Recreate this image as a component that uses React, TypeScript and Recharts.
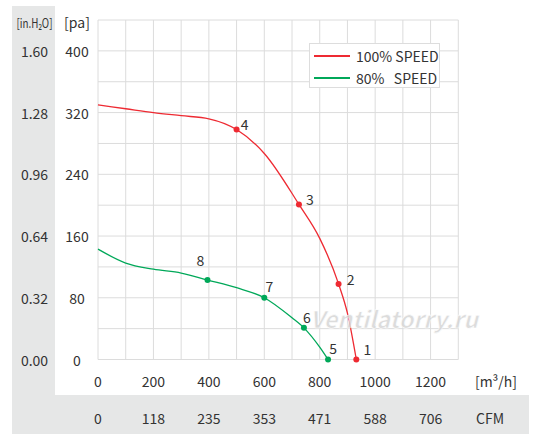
import React from 'react';
import { LineChart, Line, XAxis, YAxis, CartesianGrid, Legend } from 'recharts';

// ---- data ----
const RED_FLOW = [0, 100, 200, 300, 400, 500, 600, 725, 800, 868, 900, 932];
const RED_PRESSURE = [330, 325, 320, 316, 312, 298, 267, 201, 157, 98, 60, 0];
const RED_POINT_LABELS = ['', '', '', '', '', '4', '', '3', '', '2', '', '1'];

const GREEN_FLOW = [0, 100, 200, 300, 395, 500, 600, 700, 743, 800, 830];
const GREEN_PRESSURE = [143, 125, 117, 112, 103, 93, 80, 54, 41, 16, 0];
const GREEN_POINT_LABELS = ['', '', '', '', '8', '', '7', '', '6', '', '5'];

const X_TICKS = [0, 100, 200, 300, 400, 500, 600, 700, 800, 900, 1000, 1100, 1200, 1300];
const Y_TICKS = [0, 40, 80, 120, 160, 200, 240, 280, 320, 360, 400, 440];
const PA_LABELS = ['0', '80', '160', '240', '320', '400'];
const INH2O_LABELS = ['0.00', '0.32', '0.64', '0.96', '1.28', '1.60'];
const M3H_LABELS = ['0', '200', '400', '600', '800', '1000', '1200'];
const CFM_LABELS = ['0', '118', '235', '353', '471', '588', '706'];

const SERIES_NAMES = ['100% SPEED', '80%   SPEED'];

const redData = RED_FLOW.map((f, i) => ({ flow: f, pressure: RED_PRESSURE[i], label: RED_POINT_LABELS[i] }));
const greenData = GREEN_FLOW.map((f, i) => ({ flow: f, pressure: GREEN_PRESSURE[i], label: GREEN_POINT_LABELS[i] }));

// ---- styles ----
const FONT = "'Noto Sans CJK SC', 'Noto Sans', sans-serif";
const TEXT = '#333333';
const RED = '#ee2a32';
const GREEN = '#00a859';
const GRID = '#dcdcdc';
const PANEL = '#e6e7e7';

const LABEL_OFFSETS: Record<string, [number, number]> = {
  '1': [11, -11],
  '2': [12, -5],
  '3': [11, -5],
  '4': [8, -6],
  '5': [5, -12],
  '6': [3, -11],
  '7': [5, -12],
  '8': [-7, -20],
};

const makeDot = (color: string) => (props: any) => {
  const { cx, cy, payload, index } = props;
  if (!payload || !payload.label) return <g key={`d-${index}`} />;
  const off = LABEL_OFFSETS[payload.label] || [8, -8];
  return (
    <g key={`d-${index}`}>
      <circle cx={cx} cy={cy} r={3} fill={color} stroke="none" />
      <text
        x={cx + off[0]}
        y={cy + off[1]}
        textAnchor="middle"
        dominantBaseline="central"
        fontFamily={FONT}
        fontSize={14}
        fill={TEXT}
      >
        {payload.label}
      </text>
    </g>
  );
};

const XTick = (props: any) => {
  const { x, payload } = props;
  const v = payload.value;
  if (v % 200 !== 0 || v > 1200) return <g />;
  const idx = v / 200;
  return (
    <g>
      <text x={x} y={381} textAnchor="middle" dominantBaseline="central" fontFamily={FONT} fontSize={14} fill={TEXT}>
        {M3H_LABELS[idx]}
      </text>
      <text x={x} y={418} textAnchor="middle" dominantBaseline="central" fontFamily={FONT} fontSize={14} fill={TEXT}>
        {CFM_LABELS[idx]}
      </text>
    </g>
  );
};

const YTick = (props: any) => {
  const { y, payload } = props;
  const v = payload.value;
  if (v % 80 !== 0 || v > 400) return <g />;
  const idx = v / 80;
  return (
    <g>
      <text x={77} y={y} textAnchor="middle" dominantBaseline="central" fontFamily={FONT} fontSize={14} fill={TEXT}>
        {PA_LABELS[idx]}
      </text>
      <text x={34.5} y={y} textAnchor="middle" dominantBaseline="central" fontFamily={FONT} fontSize={14} fill={TEXT}>
        {INH2O_LABELS[idx]}
      </text>
    </g>
  );
};

const XUnitLabel = () => (
  <g>
    <text x={496} y={381} textAnchor="middle" dominantBaseline="central" fontFamily={FONT} fontSize={14} fill={TEXT}>
      [m³/h]
    </text>
    <text x={476} y={418} textAnchor="start" dominantBaseline="central" fontFamily={FONT} fontSize={14} fill={TEXT}>
      CFM
    </text>
  </g>
);

const YUnitLabel = () => (
  <g>
    <text x={77} y={22} textAnchor="middle" dominantBaseline="central" fontFamily={FONT} fontSize={14} fill={TEXT}>
      [pa]
    </text>
    <text
      x={34.5}
      y={22}
      textAnchor="middle"
      dominantBaseline="central"
      fontFamily={FONT}
      fontSize={13}
      fill={TEXT}
      textLength={36}
      lengthAdjust="spacingAndGlyphs"
    >
      [in.H₂O]
    </text>
  </g>
);

const LegendBox = (props: any) => {
  const payload = props.payload || [];
  return (
    <div
      style={{
        width: 131,
        height: 45,
        border: '1px solid #dddddd',
        background: '#ffffff',
        boxSizing: 'border-box',
        position: 'relative',
        fontFamily: FONT,
        fontSize: 14,
        color: TEXT,
      }}
    >
      {payload.map((p: any, i: number) => (
        <div key={i} style={{ position: 'absolute', left: 0, top: i === 0 ? 2 : 23.5, height: 20, width: '100%' }}>
          <div style={{ position: 'absolute', left: 4, top: 9, width: 36, height: 2, background: p.color }} />
          <div style={{ position: 'absolute', left: 46, top: 0, lineHeight: '20px', whiteSpace: 'pre' }}>{p.value}</div>
        </div>
      ))}
    </div>
  );
};

export default function App() {
  return (
    <div style={{ position: 'absolute', left: 0, top: 0, width: 543, height: 443, background: '#ffffff' }}>
      <div style={{ position: 'absolute', left: 12, top: 6, width: 43, height: 427, background: PANEL }} />
      <div style={{ position: 'absolute', left: 12, top: 395, width: 517, height: 38.5, background: PANEL }} />
      <div style={{ position: 'absolute', left: 0, top: 0 }}>
        <LineChart
          width={543}
          height={443}
          data={redData}
          margin={{ top: 20, right: 84.7, bottom: 53.5, left: 55 }}
        >
          <CartesianGrid stroke={GRID} strokeWidth={1} fill="none" />
          <XAxis
            dataKey="flow"
            type="number"
            domain={[0, 1300]}
            ticks={X_TICKS}
            interval={0}
            axisLine={false}
            tickLine={false}
            height={30}
            tick={<XTick />}
            label={<XUnitLabel />}
            allowDuplicatedCategory={false}
          />
          <YAxis
            type="number"
            domain={[0, 440]}
            ticks={Y_TICKS}
            interval={0}
            axisLine={false}
            tickLine={false}
            width={43}
            tick={<YTick />}
            label={<YUnitLabel />}
          />
          <Legend
            layout="horizontal"
            verticalAlign="middle"
            align="center"
            content={<LegendBox />}
            wrapperStyle={{ position: 'absolute', left: 309, top: 43, width: 131, height: 45 }}
          />
          <Line
            data={redData}
            dataKey="pressure"
            name={SERIES_NAMES[0]}
            type="monotone"
            stroke={RED}
            strokeWidth={1.3}
            dot={makeDot(RED)}
            activeDot={false}
            isAnimationActive={false}
          />
          <Line
            data={greenData}
            dataKey="pressure"
            name={SERIES_NAMES[1]}
            type="monotone"
            stroke={GREEN}
            strokeWidth={1.3}
            dot={makeDot(GREEN)}
            activeDot={false}
            isAnimationActive={false}
          />
        </LineChart>
      </div>
      <svg
        width={543}
        height={443}
        style={{ position: 'absolute', left: 0, top: 0, pointerEvents: 'none' }}
      >
        <text
          x={310}
          y={328}
          fontFamily={FONT}
          fontSize={23}
          fontWeight="bold"
          fontStyle="italic"
          fill="#d6d6d6"
          stroke="#ffffff"
          strokeWidth={0.6}
          textLength={168}
          lengthAdjust="spacingAndGlyphs"
          opacity={0.85}
        >
          Ventilatorry.ru
        </text>
      </svg>
    </div>
  );
}
